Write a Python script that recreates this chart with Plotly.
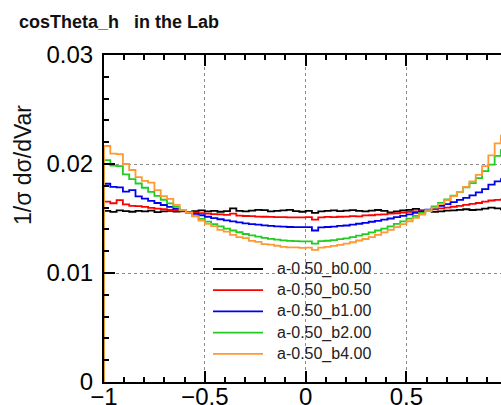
import numpy as np
import plotly.graph_objects as go

# ---------------- data (64 bins over [-1, 1]) ----------------
n_bins = 64
x_min, x_max = -1.0, 1.0

series_names = ["a-0.50_b0.00", "a-0.50_b0.50", "a-0.50_b1.00", "a-0.50_b2.00", "a-0.50_b4.00"]
series_colors = ["#000000", "#ff0000", "#0000ee", "#22cc22", "#ff9933"]

b0_00 = [0.01570, 0.01560, 0.01575, 0.01568, 0.01562, 0.01570, 0.01565, 0.01572,
         0.01558, 0.01566, 0.01570, 0.01564, 0.01572, 0.01560, 0.01568, 0.01575,
         0.01566, 0.01570, 0.01562, 0.01568, 0.01592, 0.01570, 0.01566, 0.01572,
         0.01580, 0.01576, 0.01566, 0.01570, 0.01574, 0.01580, 0.01568, 0.01562,
         0.01570, 0.01552, 0.01566, 0.01570, 0.01575, 0.01568, 0.01572, 0.01576,
         0.01570, 0.01565, 0.01572, 0.01578, 0.01570, 0.01555, 0.01566, 0.01574,
         0.01580, 0.01588, 0.01575, 0.01568, 0.01560, 0.01566, 0.01572, 0.01575,
         0.01580, 0.01585, 0.01578, 0.01582, 0.01590, 0.01600, 0.01592, 0.01585]

b0_50 = [0.01655, 0.01640, 0.01668, 0.01630, 0.01615, 0.01614, 0.01606, 0.01598,
         0.01591, 0.01585, 0.01578, 0.01572, 0.01566, 0.01560, 0.01555, 0.01550,
         0.01545, 0.01541, 0.01537, 0.01533, 0.01545, 0.01526, 0.01523, 0.01521,
         0.01518, 0.01516, 0.01515, 0.01513, 0.01512, 0.01511, 0.01510, 0.01510,
         0.01512, 0.01490, 0.01510, 0.01514, 0.01512, 0.01516, 0.01518, 0.01522,
         0.01520, 0.01528, 0.01530, 0.01536, 0.01538, 0.01545, 0.01548, 0.01555,
         0.01560, 0.01566, 0.01572, 0.01580, 0.01585, 0.01592, 0.01600, 0.01608,
         0.01616, 0.01625, 0.01634, 0.01642, 0.01655, 0.01665, 0.01670, 0.01675]

b1_00 = [0.01819, 0.01790, 0.01785, 0.01747, 0.01760, 0.01703, 0.01682, 0.01661,
         0.01642, 0.01624, 0.01606, 0.01589, 0.01573, 0.01558, 0.01543, 0.01530,
         0.01516, 0.01504, 0.01493, 0.01483, 0.01473, 0.01464, 0.01456, 0.01449,
         0.01443, 0.01437, 0.01432, 0.01428, 0.01425, 0.01422, 0.01421, 0.01420,
         0.01420, 0.01390, 0.01418, 0.01422, 0.01426, 0.01432, 0.01436, 0.01444,
         0.01452, 0.01460, 0.01470, 0.01478, 0.01490, 0.01500, 0.01512, 0.01525,
         0.01538, 0.01552, 0.01566, 0.01582, 0.01598, 0.01615, 0.01632, 0.01650,
         0.01670, 0.01690, 0.01712, 0.01740, 0.01770, 0.01810, 0.01840, 0.01860]

b2_00 = [0.02035, 0.01985, 0.01980, 0.01904, 0.01861, 0.01821, 0.01782, 0.01744,
         0.01707, 0.01672, 0.01639, 0.01608, 0.01577, 0.01549, 0.01521, 0.01496,
         0.01471, 0.01449, 0.01428, 0.01408, 0.01390, 0.01374, 0.01358, 0.01345,
         0.01333, 0.01322, 0.01313, 0.01306, 0.01299, 0.01295, 0.01292, 0.01290,
         0.01290, 0.01270, 0.01292, 0.01296, 0.01302, 0.01310, 0.01318, 0.01330,
         0.01342, 0.01356, 0.01372, 0.01390, 0.01408, 0.01428, 0.01450, 0.01474,
         0.01498, 0.01524, 0.01552, 0.01580, 0.01610, 0.01642, 0.01675, 0.01710,
         0.01745, 0.01785, 0.01825, 0.01870, 0.01935, 0.01995, 0.02075, 0.02130]

b4_00 = [0.02165, 0.02095, 0.02090, 0.02000, 0.01945, 0.01880, 0.01845, 0.01830,
         0.01760, 0.01705, 0.01680, 0.01625, 0.01580, 0.01555, 0.01520, 0.01480,
         0.01450, 0.01430, 0.01395, 0.01380, 0.01350, 0.01330, 0.01320, 0.01295,
         0.01285, 0.01265, 0.01260, 0.01250, 0.01240, 0.01235, 0.01235, 0.01230,
         0.01232, 0.01212, 0.01232, 0.01240, 0.01248, 0.01258, 0.01270, 0.01282,
         0.01298, 0.01312, 0.01330, 0.01350, 0.01372, 0.01395, 0.01420, 0.01448,
         0.01475, 0.01505, 0.01535, 0.01568, 0.01600, 0.01635, 0.01668, 0.01705,
         0.01745, 0.01790, 0.01840, 0.01900, 0.01980, 0.02080, 0.02190, 0.02260]

series_values = [b0_00, b0_50, b1_00, b2_00, b4_00]

x_tick_vals = [-1, -0.5, 0, 0.5, 1]
x_tick_text = ["\u22121", "\u22120.5", "0", "0.5", "1"]
y_tick_vals = [0, 0.01, 0.02, 0.03]
y_tick_text = ["0", "0.01", "0.02", "0.03"]

# ---------------- figure ----------------
FONT = "Liberation Sans, Arial, Helvetica, sans-serif"
W, H = 501, 405
ML, MR, MT, MB = 104, 0, 55, 23
PW, PH = W - ML - MR, H - MT - MB
x_view = [-1.0, 0.969]
y_view = [0.0, 0.03]


def px_x(px):
    return (px - ML) / PW


def px_y(py):
    return (H - MB - py) / PH


edges = np.linspace(x_min, x_max, n_bins + 1)

fig = go.Figure()
for name, color, vals in zip(series_names, series_colors, series_values):
    v = np.asarray(vals)
    xs = np.concatenate([[edges[0]], edges[:-1], [edges[-1], edges[-1]]])
    ys = np.concatenate([[0.0], v, [v[-1], 0.0]])
    fig.add_trace(go.Scatter(x=xs, y=ys, mode="lines", name=name,
                             line=dict(color=color, width=1.8, shape="hv"),
                             showlegend=False))

axis_common = dict(showline=True, linecolor="black", linewidth=2,
                   ticks="inside", tickcolor="black", tickwidth=2, ticklen=11,
                   showgrid=True, gridcolor="#8a8a8a", gridwidth=1, griddash="dot",
                   zeroline=False,
                   tickfont=dict(family=FONT, size=24, color="black"),
                   automargin=False)

fig.update_layout(
    width=W, height=H,
    margin=dict(l=ML, r=MR, t=MT, b=MB, pad=0),
    paper_bgcolor="white", plot_bgcolor="white",
    font=dict(family=FONT, color="black"),
    xaxis=dict(range=x_view, tickvals=x_tick_vals, ticktext=x_tick_text,
               mirror="ticks", ticklabelstandoff=-8,
               minor=dict(dtick=0.1, tick0=0, ticks="inside", ticklen=5, tickwidth=2,
                          tickcolor="black", showgrid=False),
               **axis_common),
    yaxis=dict(range=y_view, tickvals=y_tick_vals, ticktext=y_tick_text,
               ticklabelstandoff=4,
               minor=dict(dtick=0.002, tick0=0, ticks="inside", ticklen=5, tickwidth=2,
                          tickcolor="black", showgrid=False),
               **axis_common),
    yaxis2=dict(overlaying="y", side="right", anchor="x", range=y_view,
                tickvals=y_tick_vals, showticklabels=False, showgrid=False,
                showline=False, zeroline=False, ticks="inside", ticklen=6, tickwidth=2,
                tickcolor="black",
                minor=dict(dtick=0.002, tick0=0, ticks="inside", ticklen=2, tickwidth=2,
                           tickcolor="black", showgrid=False)),
    showlegend=False,
)

# legend (drawn as line samples + real text labels)
leg_x0, leg_x1, leg_tx = 213, 263, 275
leg_y0, leg_dy = 269, 21.2
for i, (name, color) in enumerate(zip(series_names, series_colors)):
    yy = px_y(leg_y0 + i * leg_dy)
    fig.add_shape(type="line", xref="paper", yref="paper",
                  x0=px_x(leg_x0), x1=px_x(leg_x1), y0=yy, y1=yy,
                  line=dict(color=color, width=1.8))
    fig.add_annotation(text=name, xref="paper", yref="paper",
                       x=px_x(leg_tx), y=yy, xanchor="left", yanchor="middle",
                       showarrow=False, font=dict(family=FONT, size=16, color="#222222"))

fig.add_annotation(text="<b>cosTheta_h\u00a0\u00a0\u00a0in the Lab</b>", xref="paper", yref="paper",
                   x=px_x(17), y=px_y(22),
                   xanchor="left", yanchor="middle", showarrow=False,
                   font=dict(family=FONT, size=18, color="#111111"))
fig.add_annotation(text="1/\u03c3 d\u03c3/dVar", xref="paper", yref="paper",
                   x=px_x(23), y=px_y(165),
                   xanchor="center", yanchor="middle", textangle=-90, showarrow=False,
                   font=dict(family=FONT, size=23, color="#111111"))

fig.write_html("out.html")
